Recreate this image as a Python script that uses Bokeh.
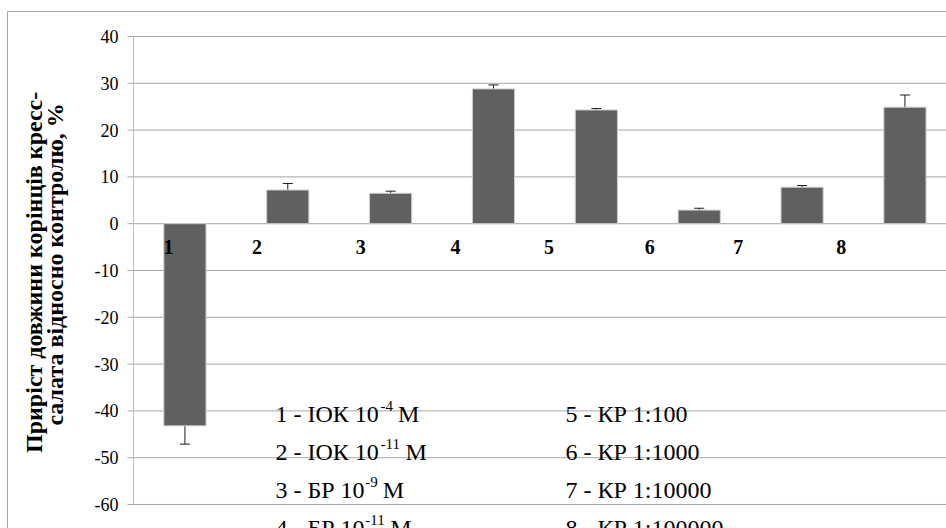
import math
from bokeh.plotting import figure
from bokeh.models import ColumnDataSource, Range1d, Whisker, TeeHead
from bokeh.core.properties import value
from bokeh.embed import file_html
from bokeh.resources import INLINE

# ---------------- data ----------------
categories = ["1", "2", "3", "4", "5", "6", "7", "8"]
values = [-43.2, 7.2, 6.5, 28.8, 24.3, 2.9, 7.8, 24.9]
errors = [3.9, 1.4, 0.45, 0.85, 0.3, 0.4, 0.35, 2.6]
y_ticks = [-60, -50, -40, -30, -20, -10, 0, 10, 20, 30, 40]
y_tick_labels = ["-60", "-50", "-40", "-30", "-20", "-10", "0", "10", "20", "30", "40"]

y_title = ["Приріст довжини корінців кресс-", "салата відносно контролю, %"]

legend_left_main = ["1 - ІОК 10", "2 - ІОК 10", "3 - БР 10", "4 - БР 10"]
legend_left_sup = ["-4", "-11", "-9", "-11"]
legend_left_tail = ["М", "М", "М", "М"]
legend_right = ["5 - КР 1:100", "6 - КР 1:1000", "7 - КР 1:10000", "8 - КР 1:100000"]

# label placement (category numbers were a separate text row in the original)
label_x = [0.34, 1.20, 2.21, 3.13, 4.04, 5.02, 5.88, 6.88]
label_y = -5.0

# ---------------- layout constants ----------------
WIDTH, HEIGHT = 946, 528
X_RANGE = (-1.293, 7.904)       # plot area starts at x = 0
Y_RANGE = (-65.13, 47.69)       # value axis spans -60 .. 40
PX_X = WIDTH / (X_RANGE[1] - X_RANGE[0])
PX_Y = HEIGHT / (Y_RANGE[1] - Y_RANGE[0])

SERIF = '"Liberation Serif"'
W = {"0": .5, "1": .5, "2": .5, "3": .5, "4": .5, "5": .5, "6": .5, "7": .5,
     "8": .5, "9": .5, " ": .25, "-": .333, ":": .278, "І": .333, "О": .722,
     "К": .70, "Б": .565, "Р": .556, "М": .889}


def text_width(s, size):
    return sum(W.get(c, .5) for c in s) * size


MAIN_SIZE = 24
SUP_SIZE = 15
LINE_STEP = 38
GRID = "#a6a6a6"

x = [i + 0.5 for i in range(len(categories))]
src = ColumnDataSource(dict(
    x=x, top=values,
    upper=[v + e for v, e in zip(values, errors)],
    lower=[v - e for v, e in zip(values, errors)],
))

p = figure(width=WIDTH, height=HEIGHT, x_range=Range1d(*X_RANGE),
           y_range=Range1d(*Y_RANGE), output_backend="svg",
           toolbar_location=None, x_axis_location=None, y_axis_location=None,
           min_border=0)
p.outline_line_color = None
p.background_fill_color = "white"
p.border_fill_color = "white"
p.grid.visible = False

y_lo, y_hi = min(y_ticks), max(y_ticks)
tick_out = 6 / PX_X

# outer chart border (top and left edges visible)
border_x = X_RANGE[0] + 7 / PX_X
border_y = Y_RANGE[1] - 11 / PX_Y
p.segment(x0=[border_x, border_x], y0=[border_y, border_y],
          x1=[X_RANGE[1] + 1, border_x], y1=[border_y, Y_RANGE[0] - 1],
          line_color=GRID, line_width=1)

# horizontal grid lines with outward ticks
p.segment(x0=-tick_out, y0=y_ticks, x1=X_RANGE[1] + 1, y1=y_ticks,
          line_color=GRID, line_width=1)
# value axis line
p.segment(x0=[0], y0=[y_lo], x1=[0], y1=[y_hi], line_color="#bfbfbf",
          line_width=1)

# tick labels
p.text(x=0, y=y_ticks, text=y_tick_labels, x_offset=-15,
       text_font=value(SERIF), text_font_size="18px", text_align="right",
       text_baseline="middle", text_color="black")

# bars
p.vbar(x="x", top="top", bottom=0, width=0.41, source=src,
       fill_color="#606060", line_color="#cfcfcf", line_width=1)

# error bars
wh = Whisker(source=src, base="x", upper="upper", lower="lower",
             line_color="#1a1a1a", line_width=1,
             upper_head=TeeHead(size=10, line_color="#1a1a1a", line_width=1),
             lower_head=TeeHead(size=10, line_color="#1a1a1a", line_width=1))
p.add_layout(wh)

# category numbers
p.text(x=label_x, y=label_y, text=categories,
       text_font=value(SERIF), text_font_style="bold",
       text_font_size="20px", text_align="center", text_baseline="middle",
       text_color="black")

# legend text block
anchor_y = -40.77
left_x, right_x = 1.38, 4.20
n = len(legend_left_main)
offs = [i * LINE_STEP for i in range(n)]
main_w = [text_width(s, MAIN_SIZE) for s in legend_left_main]
sup_w = [text_width(s, SUP_SIZE) for s in legend_left_sup]
space_w = text_width(" ", MAIN_SIZE)

lsrc = ColumnDataSource(dict(
    x=[left_x] * n, y=[anchor_y] * n, main=legend_left_main,
    sup=legend_left_sup, tail=legend_left_tail,
    yo=offs, sup_xo=[w + 1 for w in main_w], sup_yo=[o - 8 for o in offs],
    tail_xo=[a + b + space_w for a, b in zip(main_w, sup_w)],
))
common = dict(text_font=value(SERIF), text_color="black",
              text_baseline="alphabetic", text_align="left")
p.text(x="x", y="y", text="main", y_offset="yo", source=lsrc,
       text_font_size=f"{MAIN_SIZE}px", **common)
p.text(x="x", y="y", text="sup", x_offset="sup_xo", y_offset="sup_yo",
       source=lsrc, text_font_size=f"{SUP_SIZE}px", **common)
p.text(x="x", y="y", text="tail", x_offset="tail_xo", y_offset="yo",
       source=lsrc, text_font_size=f"{MAIN_SIZE}px", **common)

rsrc = ColumnDataSource(dict(x=[right_x] * n, y=[anchor_y] * n,
                             t=legend_right, yo=offs))
p.text(x="x", y="y", text="t", y_offset="yo", source=rsrc,
       text_font_size=f"{MAIN_SIZE}px", **common)

# y-axis title (two lines)
p.text(x=[-0.972, -0.765], y=[-10.4, -8.7], text=y_title, angle=math.pi / 2,
       text_font=value(SERIF), text_font_style="bold", text_font_size="24px",
       text_align="center", text_baseline="alphabetic", text_color="black")

open("out.html", "w").write(file_html(p, INLINE))
